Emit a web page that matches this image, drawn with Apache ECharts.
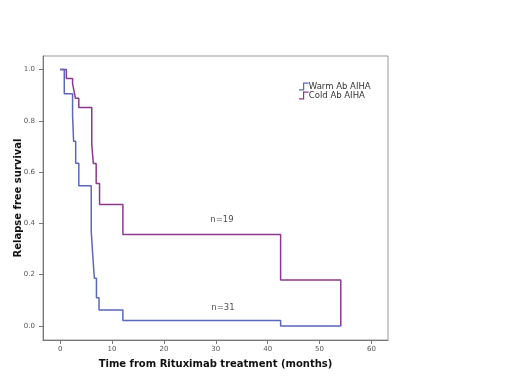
<!DOCTYPE html>
<html>
<head>
<meta charset="utf-8">
<script src="https://cdn.jsdelivr.net/npm/echarts@6/dist/echarts.min.js"></script>
<style>html,body{margin:0;padding:0;background:#fff;}#c{width:520px;height:381px;}</style>
</head>
<body>
<div id="c"></div>
<script>
// Kaplan-Meier step data (time in months, survival)
const warmTimes = [0, 0.8, 2.4, 2.6, 3.0, 3.6, 6.0, 6.3, 6.6, 7.0, 7.5, 12.1, 42.5, 54.2];
const warmSurv  = [1.0, 0.906, 0.82, 0.72, 0.635, 0.547, 0.368, 0.273, 0.186, 0.110, 0.062, 0.021, 0.0, 0.0];
const coldTimes = [0, 1.2, 2.4, 2.6, 2.95, 3.6, 6.1, 6.4, 6.95, 7.6, 12.1, 42.5, 54.1];
const coldSurv  = [1.0, 0.965, 0.945, 0.925, 0.888, 0.852, 0.708, 0.634, 0.556, 0.474, 0.357, 0.179, 0.0];
const xTicks = [0, 10, 20, 30, 40, 50, 60];
const yTicks = [0, 0.2, 0.4, 0.6, 0.8, 1.0];
const seriesNames = ['Warm Ab AIHA', 'Cold Ab AIHA'];
const annotationText = ['n=19', 'n=31'];
const annotationX = [31.2, 31.4];
const annotationY = [0.415, 0.072];

const warmColor = '#5a67bd';
const coldColor = '#8a3a8c';
const stepIcon = 'path://M0,8.5 L5,8.5 L5,0 L12,0 L12,1.5 L6.5,1.5 L6.5,10 L0,10 Z';

const chart = echarts.init(document.getElementById('c'), null, { renderer: 'canvas' });
const axisCol = '#777';
chart.setOption({
  animation: false,
  backgroundColor: '#fff',
  grid: { left: 43, right: 132, top: 56, bottom: 41, show: true, borderColor: '#999', borderWidth: 1,
          containLabel: false, outerBoundsMode: 'none' },
  legend: {
    orient: 'vertical', left: 294, top: 77, itemGap: 0, itemWidth: 10, itemHeight: 8,
    textStyle: { fontFamily: 'DejaVu Sans', fontSize: 8.5, lineHeight: 8, color: '#333', padding: [0, 0, 0, -5] },
    data: [
      { name: seriesNames[0], icon: stepIcon },
      { name: seriesNames[1], icon: stepIcon }
    ]
  },
  xAxis: {
    type: 'value', min: -3.3, max: 63.2,
    name: 'Time from Rituximab treatment (months)', nameLocation: 'middle', nameGap: 19,
    nameTextStyle: { fontFamily: 'DejaVu Sans', fontWeight: 'bold', fontSize: 10, color: '#111' },
    axisLine: { show: true, onZero: false, lineStyle: { color: axisCol, width: 1 } },
    axisTick: { show: true, length: 4, customValues: xTicks, lineStyle: { color: axisCol } },
    axisLabel: { customValues: xTicks, margin: 6, fontFamily: 'DejaVu Sans', fontSize: 7, color: '#555' },
    splitLine: { show: false }
  },
  yAxis: {
    type: 'value', min: -0.055, max: 1.053,
    name: 'Relapse free survival', nameLocation: 'middle', nameGap: 20, nameRotate: 90,
    nameMoveOverlap: false,
    nameTextStyle: { fontFamily: 'DejaVu Sans', fontWeight: 'bold', fontSize: 10, color: '#111' },
    axisLine: { show: true, onZero: false, lineStyle: { color: axisCol, width: 1 } },
    axisTick: { show: true, length: 4, customValues: yTicks, lineStyle: { color: axisCol } },
    axisLabel: { customValues: yTicks, margin: 8, fontFamily: 'DejaVu Sans', fontSize: 7, color: '#555',
      formatter: v => v.toFixed(1) },
    splitLine: { show: false }
  },
  series: [
    {
      name: seriesNames[0], type: 'line', step: 'end', symbol: 'none',
      lineStyle: { color: warmColor, width: 1.5 }, itemStyle: { color: warmColor },
      data: warmTimes.map((t, i) => [t, warmSurv[i]]), z: 3
    },
    {
      name: seriesNames[1], type: 'line', step: 'end', symbol: 'none',
      lineStyle: { color: coldColor, width: 1.5 }, itemStyle: { color: coldColor },
      data: coldTimes.map((t, i) => [t, coldSurv[i]]), z: 2
    },
    {
      name: 'labels', type: 'scatter', symbol: 'circle', symbolSize: 1,
      itemStyle: { color: 'rgba(0,0,0,0)' }, silent: true,
      label: { show: true, position: 'inside', fontFamily: 'DejaVu Sans', fontSize: 8.5, color: '#222',
               formatter: p => annotationText[p.dataIndex] },
      data: annotationX.map((x, i) => [x, annotationY[i]]), z: 5
    }
  ]
});
</script>
</body>
</html>
